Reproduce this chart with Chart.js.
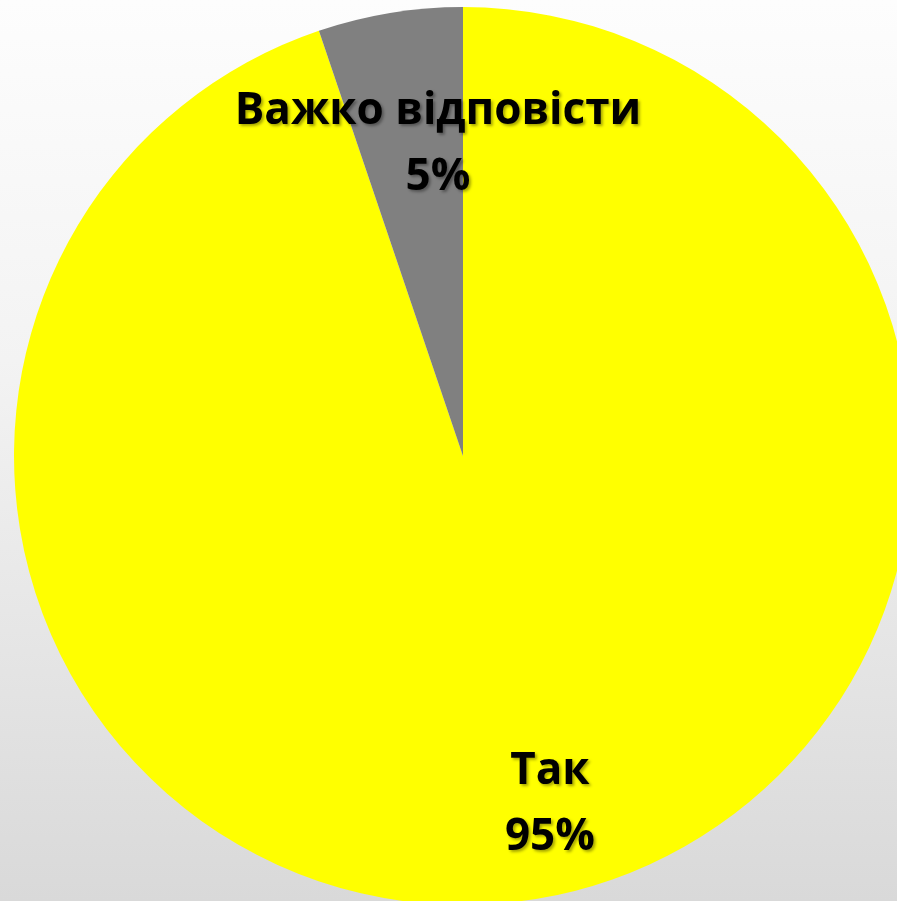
<!DOCTYPE html>
<html>
<head>
<meta charset="utf-8">
<script src="https://cdn.jsdelivr.net/npm/chart.js@4.4.0/dist/chart.umd.min.js"></script>
<style>
  html, body {
    margin: 0;
    padding: 0;
    width: 897px;
    height: 901px;
    overflow: hidden;
    background: linear-gradient(to bottom, #fdfdfd 0%, #f3f3f3 40%, #d9d9d9 100%);
  }
  #wrap {
    position: absolute;
    left: 14px;
    top: 7px;
    width: 898px;
    height: 898px;
  }
</style>
</head>
<body>
<div id="wrap"><canvas id="chartPie"></canvas></div>
<script>
const labels = ['Так', 'Важко відповісти']
const values = [94.8, 5.2]
const shownPct = [95, 5]
const colors = ['#ffff00', '#808080']
// where each label sits: angle from top (deg, clockwise) and share of radius
const labelAngle = [166, -4.6]
const labelDist = [0.80, 0.695]

const pieLabels = {
  id: 'pieLabels',
  afterDatasetsDraw(chart) {
    const ctx = chart.ctx
    const meta = chart.getDatasetMeta(0)
    ctx.save()
    ctx.font = 'bold 44px "Open Sans"'
    ctx.textAlign = 'center'
    ctx.textBaseline = 'middle'
    ctx.fillStyle = '#000000'
    ctx.shadowColor = 'rgba(0,0,0,0.35)'
    ctx.shadowOffsetX = 2
    ctx.shadowOffsetY = 2
    ctx.shadowBlur = 3
    meta.data.forEach((arc, i) => {
      const a = labelAngle[i] * Math.PI / 180
      const r = arc.outerRadius * labelDist[i]
      const x = arc.x + Math.sin(a) * r
      const y = arc.y - Math.cos(a) * r
      ctx.fillText(labels[i], x, y - 33)
      ctx.fillText(shownPct[i] + '%', x, y + 33)
    })
    ctx.restore()
  }
}

const ctx = document.getElementById('chartPie').getContext('2d')
const chartPie = new Chart(ctx, {
  type: 'pie',
  data: {
    labels: labels,
    datasets: [
      {
        data: values,
        backgroundColor: colors,
        borderWidth: 0
      }
    ]
  },
  options: {
    responsive: true,
    maintainAspectRatio: false,
    animation: false,
    layout: { padding: 0 },
    plugins: {
      legend: { display: false },
      tooltip: { enabled: false }
    }
  },
  plugins: [pieLabels]
})
</script>
</body>
</html>
